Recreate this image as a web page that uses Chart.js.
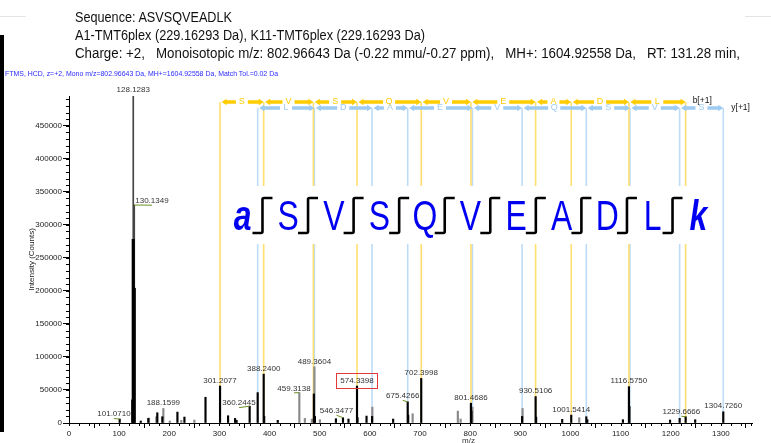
<!DOCTYPE html>
<html><head><meta charset="utf-8">
<script src="https://cdn.jsdelivr.net/npm/chart.js@4/dist/chart.umd.min.js"></script>
<style>
html,body{margin:0;padding:0;background:#fff;width:771px;height:443px;overflow:hidden;}
#wrap{position:relative;width:771px;height:443px;}
canvas{position:absolute;left:0;top:0;}
.t{position:absolute;white-space:pre;font-family:"Liberation Sans",Arial,sans-serif;transform-origin:0 50%;line-height:16px;z-index:2;}
</style></head><body>
<div id="wrap">
<canvas id="c" width="771" height="443"></canvas>
<div style="position:absolute;left:0;top:35px;width:4px;height:397px;background:#000;z-index:2"></div>
<div style="position:absolute;left:0;top:16px;width:26px;height:1px;background:#e4e4e4;z-index:2"></div>
<div style="position:absolute;left:745px;top:16px;width:26px;height:1px;background:#e4e4e4;z-index:2"></div>
<div class="t fit" data-w="157" style="left:75px;top:9px;font-size:14px;color:#111">Sequence: ASVSQVEADLK</div>
<div class="t fit" data-w="350" style="left:75px;top:27px;font-size:14px;color:#111">A1-TMT6plex (229.16293 Da), K11-TMT6plex (229.16293 Da)</div>
<div class="t fit" data-w="665" style="left:75px;top:45px;font-size:14px;color:#111">Charge: +2,   Monoisotopic m/z: 802.96643 Da (-0.22 mmu/-0.27 ppm),   MH+: 1604.92558 Da,   RT: 131.28 min,</div>
<div class="t fit" data-w="273" style="left:5px;top:66px;font-size:8px;color:#2b2bff">FTMS, HCD, z=+2, Mono m/z=802.96643 Da, MH+=1604.92558 Da, Match Tol.=0.02 Da</div>
<div class="t" style="left:462px;top:433px;font-size:8px;color:#333">m/z</div>
</div>
<script>
// ---------- DATA ----------
const xTickValues = [0,100,200,300,400,500,600,700,800,900,1000,1100,1200,1300];
const yTickValues = [0,50000,100000,150000,200000,250000,300000,350000,400000,450000];
// peaks [m/z, intensity]
const blackPeaks = [
  [101.0710, 6000], [126.128, 35000], [127.131, 278000], [129.131, 278000], [131.138, 204000],
  [143.1, 3000], [158.1, 7000], [176.1, 15500], [186.1, 9500], [216.2, 16500], [230.2, 9000],
  [272.2, 39000], [301.2077, 56000], [317.2, 11000], [331.2, 7000], [334.2, 4000],
  [360.2445, 25500], [376.27, 46000], [388.2400, 74000], [389.24, 10000], [416.3, 4000],
  [488.3, 44000], [490.4, 10000], [532.3, 6500], [546.3477, 8000], [557.3, 6000],
  [574.3398, 56000], [575.3, 8000], [593.3, 10500], [604.38, 10000], [646.4, 6000],
  [675.4266, 32000], [676.4, 12000], [702.3998, 67500], [801.4686, 30000], [802.47, 18000],
  [903.53, 10000], [930.5106, 40000], [931.5, 9000], [983.5, 5500], [1001.5414, 12000],
  [1031.6, 9500], [1033.6, 5000], [1104.6, 5000], [1116.5750, 55000], [1117.58, 25000],
  [1198.6, 4500], [1217.69, 7000], [1229.6666, 9500], [1248.7, 5000], [1304.7260, 17000]
];
const reporterPeaks = [[128.1283, 495000], [130.1349, 330000]];
const grayPeaks = [
  [159.5, 7500], [174.1, 9500], [188.1599, 22000], [201.0, 3000], [224.0, 4000], [250.0, 4500],
  [459.3138, 46000], [470.3, 7000], [484.3, 6000], [489.3604, 85000], [500.3, 5000],
  [604.9, 24000], [685.3, 14000], [775.4, 18000], [781.0, 6000], [804.46, 24000],
  [904.5, 22000], [1017.5, 8000]
];
const peakLabels = ['101.0710','128.1283','130.1349','188.1599','301.2077','360.2445','388.2400',
  '459.3138','489.3604','546.3477','574.3398','675.4266','702.3998','801.4686','930.5106',
  '1001.5414','1116.5750','1229.6666','1304.7260'];
const boxedLabel = '574.3398';
// fragment ions
const bIonMz = [301.2077, 388.2400, 487.31, 574.3398, 702.3998, 801.4686, 930.5106, 1001.5414, 1116.5750, 1229.6666];
const bLetters = ['S','V','S','Q','V','E','A','D','L'];
const yIonMz = [376.27, 489.3604, 604.38, 675.4266, 804.46, 903.53, 1031.59, 1118.62, 1217.69, 1304.7260];
const yLetters = ['L','D','A','E','V','Q','S','V','S'];
const sequence = ['a','S','V','S','Q','V','E','A','D','L','k'];

// ---------- STYLE ----------
const S = {
  font: '"Liberation Sans", Arial, sans-serif',
  bBar: '#FFCC00', bLine: '#FFDF70', yBar: '#9ECBF2', yLine: '#BEDCF6',
  bBarDy: 6, yBarDy: 12,
  labelOffsets: {
    '101.0710': [-5.7, -5], '128.1283': [0, -6], '130.1349': [17.7, -4.3],
    '360.2445': [-10.7, -3], '459.3138': [-5.3, -4.3], '546.3477': [-6.5, -7],
    '675.4266': [-5, -6], '1229.6666': [-4.3, -5]
  },
  leaders: ['101.0710','130.1349','360.2445','459.3138','546.3477','675.4266','1229.6666'],
  seqX0: 242.7, seqDx: 45.56, seqBase: 230
};

const allPeaks = blackPeaks.concat(reporterPeaks, grayPeaks);
function findPeak(m) {
  let best = allPeaks[0];
  allPeaks.forEach(p => { if (Math.abs(p[0] - m) < Math.abs(best[0] - m)) best = p; });
  return best;
}

function arrowBar(ctx, a, b, yc, dir) {
  const h = 1.8, ah = 3.3, al = 5;
  if (b - a < al + 1) return;
  ctx.beginPath();
  if (dir === 'left') {
    ctx.moveTo(a, yc); ctx.lineTo(a + al, yc - ah); ctx.lineTo(a + al, yc - h); ctx.lineTo(b, yc - h);
    ctx.lineTo(b, yc + h); ctx.lineTo(a + al, yc + h); ctx.lineTo(a + al, yc + ah);
  } else {
    ctx.moveTo(b, yc); ctx.lineTo(b - al, yc - ah); ctx.lineTo(b - al, yc - h); ctx.lineTo(a, yc - h);
    ctx.lineTo(a, yc + h); ctx.lineTo(b - al, yc + h); ctx.lineTo(b - al, yc + ah);
  }
  ctx.closePath(); ctx.fill();
}
function drawLadder(ctx, xs, letters, yc, color) {
  ctx.fillStyle = color;
  ctx.font = '9px ' + S.font;
  ctx.textAlign = 'center'; ctx.textBaseline = 'middle';
  for (let i = 0; i < letters.length; i++) {
    const x0 = xs[i], x1 = xs[i + 1], mid = (x0 + x1) / 2;
    arrowBar(ctx, x0 + 1.5, mid - 6, yc, 'left');
    arrowBar(ctx, mid + 6, x1, yc, 'right');
    ctx.fillText(letters[i], mid, yc);
  }
}

const ionPlugin = {
  id: 'ionAnnotations',
  beforeDatasetsDraw(chart) {
    const {ctx, chartArea: ca, scales: {x, y}} = chart;
    const base = y.getPixelForValue(0);
    ctx.save();
    ctx.lineWidth = 1.6;
    ctx.strokeStyle = S.yLine;
    yIonMz.forEach(m => { const px = x.getPixelForValue(m); ctx.beginPath(); ctx.moveTo(px, ca.top + S.yBarDy); ctx.lineTo(px, base); ctx.stroke(); });
    ctx.strokeStyle = S.bLine;
    bIonMz.forEach(m => { const px = x.getPixelForValue(m); ctx.beginPath(); ctx.moveTo(px, ca.top + S.bBarDy); ctx.lineTo(px, base); ctx.stroke(); });
    ctx.restore();
  },
  afterDatasetsDraw(chart) {
    const {ctx, chartArea: ca, scales: {x, y}} = chart;
    ctx.save();
    // minor ticks
    ctx.strokeStyle = '#000'; ctx.lineWidth = 1;
    for (let v = 0; v <= x.max; v += 20) {
      const px = Math.round(x.getPixelForValue(v)) + 0.5;
      ctx.beginPath(); ctx.moveTo(px, ca.bottom); ctx.lineTo(px, ca.bottom + 3); ctx.stroke();
    }
    for (let v = 0; v <= y.max; v += 10000) {
      const py = Math.round(y.getPixelForValue(v)) + 0.5;
      ctx.beginPath(); ctx.moveTo(ca.left - 3, py); ctx.lineTo(ca.left, py); ctx.stroke();
    }
    // ladders
    const bx = bIonMz.map(m => x.getPixelForValue(m));
    const yx = yIonMz.map(m => x.getPixelForValue(m));
    drawLadder(ctx, bx, bLetters, ca.top + S.bBarDy, S.bBar);
    drawLadder(ctx, yx, yLetters, ca.top + S.yBarDy, S.yBar);
    ctx.fillStyle = '#111'; ctx.font = '8.5px ' + S.font; ctx.textAlign = 'left'; ctx.textBaseline = 'middle';
    ctx.fillText('b[+1]', bx[bx.length - 1] + 7, ca.top + S.bBarDy - 1);
    ctx.fillText('y[+1]', yx[yx.length - 1] + 8, ca.top + S.yBarDy);
    // peak labels
    ctx.font = '8px ' + S.font; ctx.textAlign = 'center'; ctx.textBaseline = 'middle';
    peakLabels.forEach(lbl => {
      const p = findPeak(Number(lbl));
      const px = x.getPixelForValue(p[0]), py = y.getPixelForValue(p[1]);
      const off = S.labelOffsets[lbl] || [0, -5.5];
      const lx = px + off[0], ly = py + off[1];
      if (S.leaders.includes(lbl)) {
        ctx.strokeStyle = '#6b8e23'; ctx.lineWidth = 1;
        ctx.beginPath(); ctx.moveTo(lx, ly + 4.5); ctx.lineTo(px, py); ctx.stroke();
      }
      ctx.fillStyle = '#333';
      ctx.fillText(lbl, lx, ly);
      if (lbl === boxedLabel) {
        const w = ctx.measureText(lbl).width;
        ctx.strokeStyle = '#e03a3a'; ctx.lineWidth = 1;
        ctx.strokeRect(Math.round(lx - w / 2 - 4) + 0.5, Math.round(ly - 7.5) + 0.5, Math.round(w + 8), 15);
      }
    });
    // sequence panel
    ctx.fillStyle = '#fff';
    ctx.fillRect(226, 186, 488, 58);
    ctx.textBaseline = 'alphabetic'; ctx.textAlign = 'center';
    sequence.forEach((ch, i) => {
      const cx = S.seqX0 + i * S.seqDx;
      const term = (i === 0 || i === sequence.length - 1);
      ctx.save();
      ctx.translate(cx, S.seqBase);
      ctx.scale(0.76, 1);
      ctx.fillStyle = '#0000f0';
      ctx.font = (term ? 'italic bold ' : '') + '42px ' + S.font;
      ctx.fillText(ch, 0, 0);
      ctx.restore();
      if (i < sequence.length - 1) {
        const xv = cx + S.seqDx / 2 - 3, top = 198, bot = 233;
        ctx.strokeStyle = '#000'; ctx.lineWidth = 2.6; ctx.lineCap = 'butt';
        ctx.beginPath();
        ctx.moveTo(xv - 10, bot); ctx.lineTo(xv - 1.5, bot);
        ctx.quadraticCurveTo(xv, bot, xv, bot - 1.5);
        ctx.lineTo(xv, top + 1.5);
        ctx.quadraticCurveTo(xv, top, xv + 1.5, top);
        ctx.lineTo(xv + 10, top);
        ctx.stroke();
      }
    });
    ctx.restore();
  }
};

const toXY = arr => arr.map(p => ({x: p[0], y: p[1]}));
new Chart(document.getElementById('c'), {
  type: 'bar',
  data: {
    datasets: [
      {data: toXY(blackPeaks), backgroundColor: '#000', barThickness: 1.5, grouped: false, borderWidth: 0},
      {data: toXY(reporterPeaks), backgroundColor: '#444', barThickness: 1, grouped: false, borderWidth: 0},
      {data: toXY(grayPeaks), backgroundColor: '#8a8a8a', barThickness: 1.5, grouped: false, borderWidth: 0}
    ]
  },
  options: {
    responsive: false, animation: false, devicePixelRatio: 1,
    layout: {padding: {left: 0, right: 19, top: 96, bottom: 0}},
    plugins: {legend: {display: false}, tooltip: {enabled: false}},
    scales: {
      x: {
        type: 'linear', min: 0, max: 1362, offset: false,
        grid: {drawOnChartArea: false, drawTicks: true, tickLength: 5, tickColor: '#000'},
        border: {display: true, color: '#000', width: 1},
        ticks: {autoSkip: false, maxRotation: 0, padding: 1,
          color: '#222', font: {size: 8, family: S.font}, callback: v => String(v)},
        afterBuildTicks: s => { s.ticks = xTickValues.map(v => ({value: v})); },
        afterFit: s => { s.height = 20; }
      },
      y: {
        min: 0, max: 495000,
        grid: {drawOnChartArea: false, drawTicks: true, tickLength: 6, tickColor: '#000'},
        border: {display: true, color: '#000', width: 1},
        ticks: {autoSkip: false, padding: 1, color: '#222', font: {size: 8, family: S.font}, callback: v => String(v)},
        afterBuildTicks: s => { s.ticks = yTickValues.map(v => ({value: v})); },
        title: {display: true, text: 'Intensity (Counts)', color: '#222', font: {size: 8, family: S.font}, padding: {top: 27, bottom: 0}},
        afterFit: s => { s.width = 69; }
      }
    }
  },
  plugins: [ionPlugin]
});

document.querySelectorAll('.fit').forEach(el => {
  const w = el.getBoundingClientRect().width;
  const target = Number(el.dataset.w);
  if (w > 0) el.style.transform = 'scaleX(' + (target / w) + ')';
});
</script>
</body></html>
